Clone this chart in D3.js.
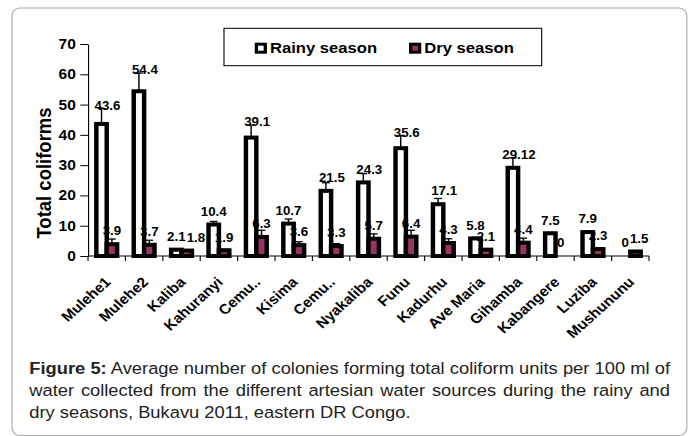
<!DOCTYPE html>
<html>
<head>
<meta charset="utf-8">
<script src="https://cdn.jsdelivr.net/npm/d3@7"></script>
<style>
  body { margin: 0; background: #fff; }
  svg { display: block; }
  text { font-family: "Liberation Sans", Arial, sans-serif; }
</style>
</head>
<body>
<script>
// data
const sites = ["Mulehe1", "Mulehe2", "Kaliba", "Kahuranyi", "Cemu..", "Kisima", "Cemu..", "Nyakaliba",
  "Funu", "Kadurhu", "Ave Maria", "Gihamba", "Kabangere", "Luziba", "Mushununu"];
const rainy = [43.6, 54.4, 2.1, 10.4, 39.1, 10.7, 21.5, 24.3, 35.6, 17.1, 5.8, 29.12, 7.5, 7.9, 0];
const dry = [3.9, 3.7, 1.8, 1.9, 6.3, 3.6, 3.3, 5.7, 6.4, 4.3, 2.1, 4.4, 0, 2.3, 1.5];
const rainyErr = [5.1, 6.0, 0.3, 1.0, 4.1, 1.5, 2.7, 2.9, 4.1, 1.9, 0.4, 3.3, 0.3, 0.3, 0];
const dryErr = [1.7, 1.5, 0.2, 0.3, 2.2, 1.1, 0.8, 1.6, 2.1, 1.4, 0.3, 1.5, 0, 0.3, 0.2];
const yTicks = [0, 10, 20, 30, 40, 50, 60, 70];
const seriesNames = ["Rainy season", "Dry season"];
const seriesColors = ["#ffffff", "#993366"];
const yTitle = "Total coliforms";
const captionLines = [
  ["Figure 5:", " Average number of colonies forming total coliform units per 100 ml of"],
  ["", "water collected from the different artesian water sources during the rainy and"],
  ["", "dry seasons, Bukavu 2011, eastern DR Congo."]
];

// the picture is a bit stretched horizontally, so draw in a narrower viewBox
const SX = 1.11;
const W = 691, H = 436, vbW = W / SX;

const svg = d3.select("body").append("svg")
  .attr("width", W).attr("height", H)
  .attr("viewBox", `0 0 ${vbW} ${H}`)
  .attr("preserveAspectRatio", "none");

// frame
svg.append("rect")
  .attr("x", 10.8).attr("y", 8)
  .attr("width", 608).attr("height", 427.5)
  .attr("rx", 7).attr("ry", 8)
  .attr("fill", "#fff").attr("stroke", "#a8a8a8").attr("stroke-width", 1);

// scales
const x = d3.scaleBand().domain(d3.range(sites.length)).range([79.3, 584.7]);
const xs = d3.scaleBand().domain([0, 1]).range([0, x.bandwidth()]).paddingInner(0).paddingOuter(0.8);
const y = d3.scaleLinear().domain([0, 70]).range([256, 44]);

const series = [rainy, dry];
const errs = [rainyErr, dryErr];
const barMid = (s, i) => x(i) + xs(s) + xs.bandwidth() / 2;

// bars
series.forEach((vals, s) => {
  svg.append("g").selectAll("rect")
    .data(vals.map((v, i) => ({ v, i })).filter(d => d.v > 0))
    .join("rect")
    .attr("x", d => x(d.i) + xs(s))
    .attr("y", d => y(d.v))
    .attr("width", xs.bandwidth())
    .attr("height", d => y(0) - y(d.v))
    .attr("fill", seriesColors[s])
    .attr("stroke", "#000")
    .attr("stroke-width", 4);
});

// data labels
const lab = svg.append("g")
  .attr("font-size", 12).attr("font-weight", "bold")
  .attr("text-anchor", "middle").attr("fill", "#000");
sites.forEach((name, i) => {
  const boxes = series.map((vals, s) => {
    const v = vals[i], e = errs[s][i];
    const cx = barMid(s, i) + (s === 0 && e >= 1.8 ? 5.4 : 0);
    const cy = Math.min(y(v) - 13, y(v + e) - 3);
    const t = lab.append("text").attr("x", cx).attr("y", cy + 4.3).text(String(v));
    return { t, cx, cy, w: t.node().getComputedTextLength() };
  });
  // push the dry label aside when the two labels collide
  const [a, b] = boxes;
  const need = (a.w + b.w) / 2 + 1 - (b.cx - a.cx);
  if (Math.abs(a.cy - b.cy) < 11 && need > 0) b.t.attr("x", b.cx + need);
});

// error bars (plus side only), drawn over the labels as in the original
series.forEach((vals, s) => {
  const g = svg.append("g").attr("stroke", "#000").attr("stroke-width", 1.3);
  vals.forEach((v, i) => {
    const e = errs[s][i];
    if (!e) return;
    const cx = barMid(s, i);
    g.append("line").attr("x1", cx).attr("x2", cx).attr("y1", y(v)).attr("y2", y(v + e));
    g.append("line").attr("x1", cx - 3.5).attr("x2", cx + 3.5).attr("y1", y(v + e)).attr("y2", y(v + e));
  });
});

// y axis
const yAxis = svg.append("g")
  .attr("transform", `translate(${x.range()[0]},0)`)
  .call(d3.axisLeft(y).tickValues(yTicks).tickSize(7).tickSizeOuter(0).tickPadding(4));
yAxis.select(".domain").attr("stroke", "#000");
yAxis.selectAll(".tick line").attr("stroke", "#000");
yAxis.selectAll("text")
  .attr("font-family", "'Liberation Sans', Arial, sans-serif")
  .attr("font-size", 14).attr("font-weight", "bold").attr("fill", "#000");

// x axis: tick marks between categories, rotated names
const xAxis = svg.append("g").attr("transform", `translate(0,${y(0)})`);
xAxis.append("line")
  .attr("x1", x.range()[0]).attr("x2", x.range()[1])
  .attr("stroke", "#000");
const bounds = d3.range(sites.length).map(i => x(i)).concat([x.range()[1]]);
xAxis.selectAll(".xt").data(bounds).join("line")
  .attr("x1", d => d).attr("x2", d => d)
  .attr("y1", 0).attr("y2", 5)
  .attr("stroke", "#000");
xAxis.selectAll(".xl").data(sites).join("text")
  .attr("text-anchor", "end")
  .attr("font-size", 14).attr("font-weight", "bold")
  .attr("transform", (d, i) => `translate(${x(i) + x.bandwidth() / 2 + 4.5},27) rotate(-45)`)
  .text(d => d);

// y title
svg.append("text")
  .attr("transform", "translate(46,173) rotate(-90)")
  .attr("text-anchor", "middle")
  .attr("font-size", 18.5).attr("font-weight", "bold")
  .text(yTitle);

// legend
const leg = svg.append("g");
leg.append("rect")
  .attr("x", 201.8).attr("y", 28.3).attr("width", 286.2).attr("height", 37.4)
  .attr("fill", "#fff").attr("stroke", "#000").attr("stroke-width", 1);
const legX = [231, 370];
seriesNames.forEach((name, s) => {
  leg.append("rect")
    .attr("x", legX[s]).attr("y", 44.2).attr("width", 8).attr("height", 8)
    .attr("fill", seriesColors[s]).attr("stroke", "#000").attr("stroke-width", 3);
  leg.append("text")
    .attr("x", legX[s] + 12.2).attr("y", 53.5)
    .attr("font-size", 15).attr("font-weight", "bold")
    .text(name);
});

// caption, first two lines justified
const capWidth = (670 - 29.3) / SX;
const cap = svg.append("g").attr("font-size", 16.5).attr("fill", "#222");
captionLines.forEach((parts, k) => {
  const t = cap.append("text").attr("x", 26.4).attr("y", 374 + k * 22);
  if (parts[0]) t.append("tspan").attr("font-weight", "bold").text(parts[0]);
  t.append("tspan").text(parts[1]);
  if (k < 2) {
    const full = parts[0] + parts[1];
    const n = (full.match(/ /g) || []).length;
    const len = t.node().getComputedTextLength();
    t.attr("word-spacing", (capWidth - len) / n);
  }
});
</script>
</body>
</html>
